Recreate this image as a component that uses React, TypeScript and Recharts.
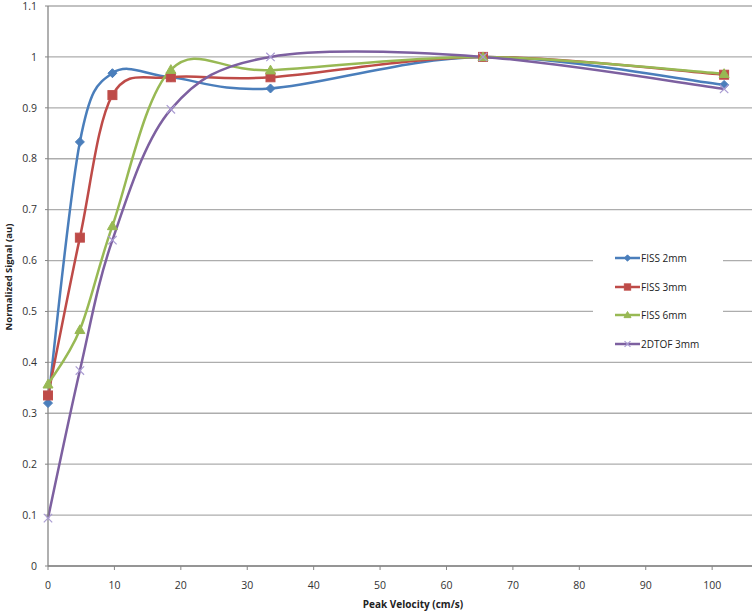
import { CartesianGrid, Legend, Line, LineChart, XAxis, YAxis } from 'recharts'

// Peak velocity (cm/s) for each measurement
const velocity = [0, 4.8, 9.7, 18.5, 33.5, 65.5, 101.8]

// Normalized signal per sequence
const fiss2mm = [0.32, 0.833, 0.968, 0.96, 0.938, 1.0, 0.945]
const fiss3mm = [0.335, 0.645, 0.925, 0.96, 0.96, 1.0, 0.965]
const fiss6mm = [0.357, 0.464, 0.668, 0.975, 0.974, 1.0, 0.967]
const tof3mm = [0.094, 0.384, 0.64, 0.897, 1.0, 1.0, 0.937]

const xTicks = [0, 10, 20, 30, 40, 50, 60, 70, 80, 90, 100]
const yTicks = [0, 0.1, 0.2, 0.3, 0.4, 0.5, 0.6, 0.7, 0.8, 0.9, 1, 1.1]

const toRows = (values: number[]) => velocity.map((x, i) => ({ x, y: values[i] }))

const series = [
  { name: 'FISS 2mm', values: fiss2mm, color: '#4A7EBB', marker: 'diamond' },
  { name: 'FISS 3mm', values: fiss3mm, color: '#BE4B48', marker: 'square' },
  { name: 'FISS 6mm', values: fiss6mm, color: '#98B954', marker: 'triangle' },
  { name: '2DTOF 3mm', values: tof3mm, color: '#7D60A0', marker: 'cross' },
]

const FONT = '"Open Sans", "DejaVu Sans", sans-serif'

// Excel-like smoothed line (Catmull-Rom through every point)
const excelSmooth = (context: any) => {
  let pts: [number, number][] = []
  return {
    areaStart() {},
    areaEnd() {},
    lineStart() {
      pts = []
    },
    lineEnd() {
      const n = pts.length
      if (!n) return
      context.moveTo(pts[0][0], pts[0][1])
      for (let i = 0; i < n - 1; i++) {
        const p0 = pts[Math.max(i - 1, 0)]
        const p1 = pts[i]
        const p2 = pts[i + 1]
        const p3 = pts[Math.min(i + 2, n - 1)]
        context.bezierCurveTo(
          p1[0] + (p2[0] - p0[0]) / 6,
          p1[1] + (p2[1] - p0[1]) / 6,
          p2[0] - (p3[0] - p1[0]) / 6,
          p2[1] - (p3[1] - p1[1]) / 6,
          p2[0],
          p2[1]
        )
      }
    },
    point(x: number, y: number) {
      pts.push([+x, +y])
    },
  }
}

const Marker = ({ cx, cy, kind, color, scale = 1 }: any) => {
  if (cx == null || cy == null) return null
  if (kind === 'diamond') {
    const r = 4.5 * scale
    return (
      <polygon
        points={`${cx},${cy - r} ${cx + r},${cy} ${cx},${cy + r} ${cx - r},${cy}`}
        fill={color}
        stroke={color}
      />
    )
  }
  if (kind === 'square') {
    const r = 4.5 * scale
    return <rect x={cx - r} y={cy - r} width={2 * r} height={2 * r} fill={color} stroke="#c0504d" />
  }
  if (kind === 'triangle') {
    const r = 5 * scale
    return (
      <polygon
        points={`${cx},${cy - r} ${cx + r},${cy + r * 0.75} ${cx - r},${cy + r * 0.75}`}
        fill={color}
        stroke={color}
      />
    )
  }
  const r = 4.2 * scale
  return (
    <g stroke="#a99bd2" strokeWidth={1.2}>
      <line x1={cx - r} y1={cy - r} x2={cx + r} y2={cy + r} />
      <line x1={cx - r} y1={cy + r} x2={cx + r} y2={cy - r} />
    </g>
  )
}

const LegendBox = () => (
  <div style={{ position: 'relative', width: 130, height: 118, background: '#fff' }}>
    {series.map((s, i) => (
      <div
        key={s.name}
        style={{ position: 'absolute', left: 0, top: 18 + i * 28.7 - 8, height: 16, display: 'flex', alignItems: 'center' }}
      >
        <svg width={48} height={16} style={{ display: 'block' }}>
          <line x1={22} y1={8} x2={47} y2={8} stroke={s.color} strokeWidth={2.5} />
          <Marker cx={34.5} cy={8} kind={s.marker} color={s.color} scale={0.7} />
        </svg>
        <span style={{ fontFamily: FONT, fontSize: 10, color: '#222', marginLeft: 0 }}>{s.name}</span>
      </div>
    ))}
  </div>
)

export default function App() {
  return (
    <div style={{ position: 'absolute', left: 0, top: 0, background: '#fff' }}>
      <style>{`body { margin: 0; }`}</style>
      <LineChart width={756} height={615} margin={{ top: 6, right: 4, left: 0, bottom: 0 }}>
        <CartesianGrid vertical={false} stroke="#adadad" strokeWidth={1.3} />
        <XAxis
          type="number"
          dataKey="x"
          domain={[0, 106]}
          ticks={xTicks}
          height={49}
          tickSize={4}
          tickMargin={12}
          axisLine={{ stroke: '#868686', strokeWidth: 1.3 }}
          tickLine={{ stroke: '#868686' }}
          tick={{ fill: '#333', fontSize: 10.5, fontFamily: FONT }}
          label={{
            content: () => (
              <text x={413} y={604} textAnchor="middle" dominantBaseline="central" fontFamily={FONT} fontSize={10} fontWeight="bold" fill="#222">
                Peak Velocity (cm/s)
              </text>
            ),
          }}
        />
        <YAxis
          type="number"
          domain={[0, 1.1]}
          ticks={yTicks}
          width={48}
          tickSize={3}
          tickMargin={8}
          axisLine={{ stroke: '#868686', strokeWidth: 1.3 }}
          tickLine={{ stroke: '#868686' }}
          tick={{ fill: '#333', fontSize: 10.5, fontFamily: FONT }}
          tickFormatter={(v: number) => String(Math.round(v * 10) / 10)}
          label={{
            content: () => (
              <text x={8} y={277} transform="rotate(-90 8 277)" textAnchor="middle" dominantBaseline="central" fontFamily={FONT} fontSize={9.5} fontWeight="bold" fill="#222">
                Normalized Signal (au)
              </text>
            ),
          }}
        />
        <Legend
          layout="vertical"
          align="center"
          verticalAlign="middle"
          content={() => <LegendBox />}
          wrapperStyle={{ position: 'absolute', left: 593, top: 240, width: 130, height: 118 }}
        />
        {series.map(s => (
          <Line
            key={s.name}
            name={s.name}
            data={toRows(s.values)}
            dataKey="y"
            type={excelSmooth as any}
            stroke={s.color}
            strokeWidth={2.5}
            isAnimationActive={false}
            dot={(p: any) => <Marker key={`${s.name}-${p.index}`} cx={p.cx} cy={p.cy} kind={s.marker} color={s.color} />}
            activeDot={false}
          />
        ))}
      </LineChart>
    </div>
  )
}
